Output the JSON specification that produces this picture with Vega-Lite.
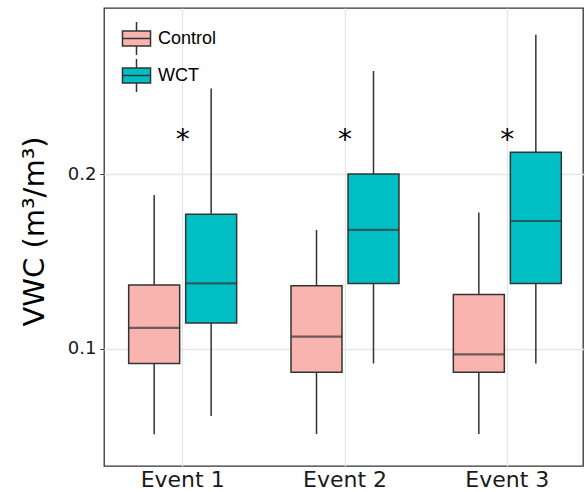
{
  "$schema": "https://vega.github.io/schema/vega-lite/v6.json",
  "width": 479,
  "height": 458,
  "autosize": {"type": "none"},
  "padding": {"left": 104, "top": 8, "right": 2, "bottom": 26},
  "background": "white",
  "config": {
    "view": {"stroke": "#333333", "strokeWidth": 1.3},
    "axis": {"gridColor": "#e6e6e6", "gridWidth": 1.3, "domain": false, "labelFont": "DejaVu Sans", "titleFont": "DejaVu Sans", "labelColor": "#1a1a1a", "titleColor": "#000000", "titleFontWeight": "normal"}
  },
  "datasets": {
    "boxes": [
      {"event": "Event 1", "group": "Control", "lower": 0.051, "q1": 0.0916, "median": 0.112, "q3": 0.1365, "upper": 0.188},
      {"event": "Event 1", "group": "WCT", "lower": 0.0615, "q1": 0.1147, "median": 0.1374, "q3": 0.177, "upper": 0.249},
      {"event": "Event 2", "group": "Control", "lower": 0.0512, "q1": 0.0865, "median": 0.1069, "q3": 0.136, "upper": 0.168},
      {"event": "Event 2", "group": "WCT", "lower": 0.0916, "q1": 0.1374, "median": 0.168, "q3": 0.2, "upper": 0.259},
      {"event": "Event 3", "group": "Control", "lower": 0.0512, "q1": 0.0865, "median": 0.0968, "q3": 0.131, "upper": 0.178},
      {"event": "Event 3", "group": "WCT", "lower": 0.0916, "q1": 0.1374, "median": 0.1731, "q3": 0.2124, "upper": 0.2797}
    ],
    "stars": [
      {"event": "Event 1", "y": 0.222, "label": "*"},
      {"event": "Event 2", "y": 0.222, "label": "*"},
      {"event": "Event 3", "y": 0.222, "label": "*"}
    ]
  },
  "layer": [
    {
      "data": {"name": "boxes"},
      "mark": {"type": "rule", "color": "#333333", "strokeWidth": 1.5},
      "encoding": {
        "x": {"field": "event", "type": "nominal", "sort": null,
              "scale": {"range": [-2.5, 484.5], "paddingInner": 0, "paddingOuter": 0},
              "axis": {"title": null, "labelAngle": 0, "labelFontSize": 22, "labelPadding": 3, "ticks": false, "grid": true, "bandPosition": 0.5}},
        "xOffset": {"field": "group", "type": "nominal", "scale": {"paddingInner": 0.1, "paddingOuter": 0.474}},
        "y": {"field": "lower", "type": "quantitative",
              "scale": {"domain": [0.0329, 0.295], "nice": false, "zero": false},
              "axis": {"title": "VWC (m³/m³)", "titleFontSize": 29, "titlePadding": 18, "titleY": 223, "values": [0.1, 0.2], "format": ".1f", "labelFontSize": 18, "tickSize": 4, "tickColor": "#333333", "labelPadding": 4}},
        "y2": {"field": "upper"}
      }
    },
    {
      "data": {"name": "boxes"},
      "mark": {"type": "bar", "width": 51, "stroke": "#333333", "strokeWidth": 1.5},
      "encoding": {
        "x": {"field": "event", "type": "nominal", "sort": null},
        "xOffset": {"field": "group", "type": "nominal"},
        "y": {"field": "q1", "type": "quantitative"},
        "y2": {"field": "q3"},
        "fill": {"field": "group", "type": "nominal",
                 "scale": {"domain": ["Control", "WCT"], "range": ["#F9B4AF", "#00BFC4"]},
                 "legend": {"title": null, "orient": "none", "legendX": 15, "legendY": 13, "padding": 0,
                            "symbolType": "M-0.85,-0.45H0.85V0.45H-0.85Z M-0.85,0H0.85 M0,-0.45V-1 M0,0.45V1",
                            "symbolSize": 1089, "symbolStrokeColor": "#333333", "symbolStrokeWidth": 1.5, "symbolOpacity": 1,
                            "rowPadding": -5, "labelOffset": 4, "labelFont": "Liberation Sans", "labelFontSize": 18, "labelColor": "#000000"}}
      }
    },
    {
      "data": {"name": "boxes"},
      "mark": {"type": "tick", "size": 51, "thickness": 2.2, "color": "#333333"},
      "encoding": {
        "x": {"field": "event", "type": "nominal", "sort": null},
        "xOffset": {"field": "group", "type": "nominal"},
        "y": {"field": "median", "type": "quantitative"}
      }
    },
    {
      "data": {"name": "stars"},
      "mark": {"type": "text", "font": "DejaVu Sans", "fontSize": 28, "baseline": "middle", "dy": 5, "color": "#000000"},
      "encoding": {
        "x": {"field": "event", "type": "nominal", "sort": null},
        "y": {"field": "y", "type": "quantitative"},
        "text": {"field": "label"}
      }
    }
  ]
}
